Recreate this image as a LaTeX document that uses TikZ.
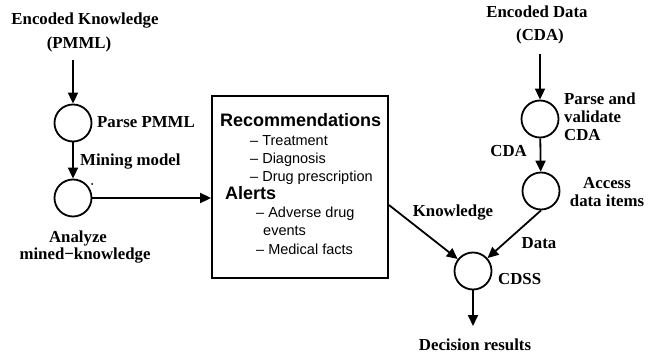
\documentclass[tikz,border=0pt]{standalone}
\usepackage{fontspec}
\setmainfont{Liberation Serif}
\setsansfont{Liberation Sans}
\usetikzlibrary{arrows.meta}

\tikzset{
  lbl/.style={font=\fontsize{16.8}{18}\selectfont\bfseries,inner sep=0pt},
  hd/.style={font=\sffamily\bfseries\fontsize{18}{20}\selectfont,inner sep=0pt,anchor=base west},
  itm/.style={font=\sffamily\fontsize{14.5}{18}\selectfont,inner sep=0pt,anchor=base west},
  proc/.style={circle,draw,line width=1.8pt,minimum size=37pt,inner sep=0pt},
  flow/.style={line width=1.8pt,-{Triangle[length=11pt,width=10pt]}}
}

\begin{document}
\begin{tikzpicture}[x=1pt,y=-1pt]
  \path[use as bounding box] (0,0) rectangle (653,358);

	% Conocimiento
	\node[lbl,anchor=base] (ek) at (85,25) {Encoded Knowledge};
	\node[lbl,anchor=base] (pmml) at (79,49) {(PMML)};
	\coordinate (ekin) at (73,60);
	\node[proc] (parse) at (73,123) {};
	\node[proc] (analyze) at (73,198) {};
	\node[lbl,anchor=base west] (parsetxt) at (97,128) {Parse PMML};
	\node[lbl,anchor=base west] (mining) at (80,166) {Mining model};
	\node[lbl,anchor=base] (antxt) at (78,242) {Analyze};
	\node[lbl,anchor=base] (mktxt) at (85,259) {mined−knowledge};
	\fill (92,184) circle (1pt);

	\draw[flow] (ekin) -- (parse);
	\draw[flow] (parse) -- (analyze);

	% Caja
	\node[draw,line width=1.8pt,minimum width=176pt,minimum height=182pt] (box) at (300,187) {};
	\node[hd] (rec) at (220,127) {Recommendations};
	\node[itm] (treat) at (250,146) {– Treatment};
	\node[itm] (diag) at (250,164) {– Diagnosis};
	\node[itm] (drug) at (250,182) {– Drug prescription};
	\node[hd] (alerts) at (225,200) {Alerts};
	\node[itm] (adv) at (256,218) {– Adverse drug};
	\node[itm] (events) at (263,236) {events};
	\node[itm] (facts) at (256,254) {– Medical facts};

	\draw[flow] (analyze) -- (analyze -| box.west);

	% Datos
	\node[lbl,anchor=base] (ed) at (537,18) {Encoded Data};
	\node[lbl,anchor=base] (cda) at (540,41) {(CDA)};
	\coordinate (edin) at (540,54);
	\node[proc] (validate) at (540,119) {};
	\node[proc] (access) at (541,191) {};
	\node[lbl,anchor=north west,align=left] (valtxt) at (564,93) {Parse and\\validate\\CDA};
	\node[lbl,anchor=base east] (cdatxt) at (527,157) {CDA};
	\node[lbl,anchor=base] (acctxt) at (607,189) {Access};
	\node[lbl,anchor=base] (itemtxt) at (607,207) {data items};

	\draw[flow] (edin) -- (validate);
	\draw[flow] (validate) -- (access);

	% CDSS
	\node[proc] (cdss) at (473,271) {};
	\node[lbl,anchor=base west] (cdsstxt) at (498,284) {CDSS};
	\node[lbl,anchor=base] (know) at (453,217) {Knowledge};
	\node[lbl,anchor=base] (data) at (539,248) {Data};
	\coordinate (kout) at (box.east |- 0,205);
	\coordinate (dres) at (473,326);
	\node[lbl,anchor=base] (dectxt) at (475,350) {Decision results};

	\draw[flow] (kout) -- (cdss);
	\draw[flow] (access.south) -- (cdss);
	\draw[flow] (cdss) -- (dres);
\end{tikzpicture}
\end{document}
